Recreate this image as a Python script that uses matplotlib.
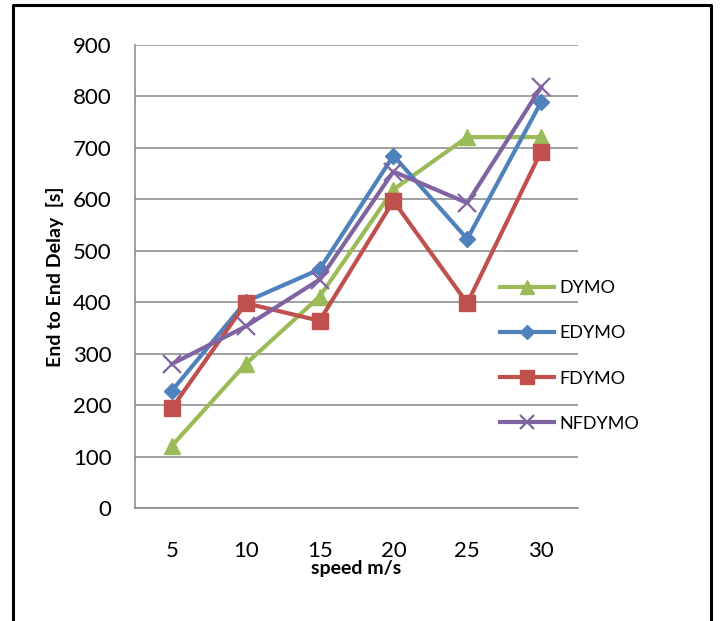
import matplotlib
matplotlib.use('Agg')
import matplotlib.pyplot as plt
from matplotlib.lines import Line2D

# data
speeds = ['5', '10', '15', '20', '25', '30']
dymo = [121, 280, 411, 619, 721, 721]
edymo = [228, 401, 464, 685, 523, 789]
fdymo = [194, 398, 364, 597, 398, 693]
nfdymo = [280, 353, 444, 654, 593, 818]
y_ticks = [0, 100, 200, 300, 400, 500, 600, 700, 800, 900]

plt.rcParams['font.family'] = ['Lato', 'DejaVu Sans']

fig = plt.figure(figsize=(7.2, 6.21), dpi=100)
ax = fig.add_axes([0.1875, 0.182, 0.6153, 0.7455])

x = list(range(1, len(speeds) + 1))
ax.plot(x, dymo, color='#9BBB59', lw=3, marker='^', ms=12, label='DYMO')
ax.plot(x, edymo, color='#4F81BD', lw=3, marker='D', ms=8.5, label='EDYMO')
ax.plot(x, fdymo, color='#C0504D', lw=3, marker='s', ms=12, label='FDYMO')
ax.plot(x, nfdymo, color='#8064A2', lw=3, marker='x', ms=13, mew=1.6, label='NFDYMO')

ax.set_xlim(0.5, len(speeds) + 0.5)
ax.set_ylim(0, 900)
ax.set_xticks(x)
ax.set_xticklabels(speeds)
ax.set_yticks(y_ticks)
ax.yaxis.grid(True, color='#868686', lw=1.1)
ax.set_axisbelow(True)
for s in ['top', 'right']:
    ax.spines[s].set_visible(False)
for s in ['left', 'bottom']:
    ax.spines[s].set_color('#868686')
    ax.spines[s].set_linewidth(1.1)
ax.tick_params(axis='both', length=0, labelsize=16)
ax.tick_params(axis='x', pad=24)
ax.tick_params(axis='y', pad=17)

ax.set_xlabel('speed m/s', fontsize=14, fontweight='bold', labelpad=-1)
ax.set_ylabel('End to End Delay  [s]', fontsize=14, fontweight='bold', labelpad=6)

ax.legend(loc='upper left', bbox_to_anchor=(500 / 720, 1 - 280 / 621),
          bbox_transform=fig.transFigure, frameon=False, fontsize=13,
          handlelength=3, handletextpad=0.3, labelspacing=1.62, borderpad=0,
          borderaxespad=0, markerscale=0.8)

# outer black border, open at the bottom
fig.add_artist(Line2D([13 / 720, 13 / 720, 711 / 720, 711 / 720],
                      [0, 1 - 5 / 621, 1 - 5 / 621, 0],
                      transform=fig.transFigure, color='black', lw=2.2))

fig.savefig('out.png', dpi=100)
